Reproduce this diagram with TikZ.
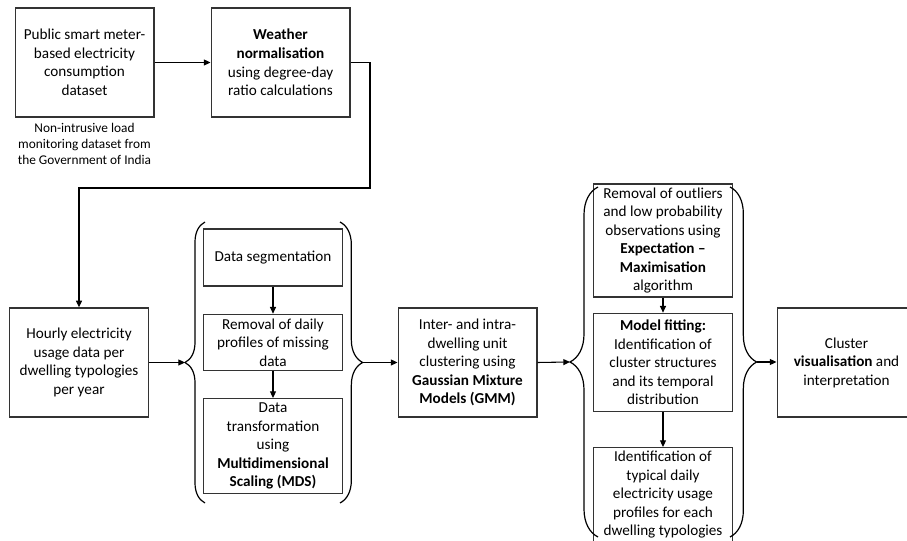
\documentclass[tikz,border=0pt]{standalone}
\usepackage{fontspec}
\setmainfont{Carlito}
\usetikzlibrary{positioning,arrows.meta,decorations.pathreplacing}

\begin{document}
\begin{tikzpicture}[x=0.75pt, y=-0.75pt,
    every node/.style={font=\fontsize{11.4}{13.9}\selectfont, align=center},
    stepbox/.style={draw=black!80, line width=1pt, minimum width=104pt, inner sep=1pt},
    note/.style={font=\fontsize{10}{12}\selectfont, inner sep=0pt},
    arr/.style={-{Triangle[length=5pt,width=4.5pt]}, line width=0.8pt},
    grpbrace/.style={decorate, line width=0.9pt, decoration={brace, amplitude=#1}},
    ]
  \useasboundingbox (0,0) rectangle (907,541);

  % top row
  \node[stepbox, minimum height=81.75pt] (smart) at (84.5,62.5)
      {Public smart meter-\\based electricity\\consumption\\dataset};
  \node[note, below=4pt of smart] (nilm)
      {Non-intrusive load\\monitoring dataset from\\the Government of India};
  \node[stepbox, minimum height=81.75pt] (wnorm) at (280.5,62.5)
      {\textbf{Weather}\\\textbf{normalisation}\\using degree-day\\ratio calculations};

  % main row
  \node[stepbox, minimum height=81.75pt] (hourly) at (79,362.5)
      {Hourly electricity\\usage data per\\dwelling typologies\\per year};

  \node[stepbox, minimum height=42.75pt] (segment) at (273,257.5) {Data segmentation};
  \node[stepbox, minimum height=42pt, below=20.25pt of segment] (missing)
      {Removal of daily\\profiles of missing\\data};
  \node[stepbox, minimum height=71.25pt, below=20.25pt of missing] (mds)
      {Data\\transformation\\using\\\textbf{Multidimensional}\\\textbf{Scaling (MDS)}};

  \node[stepbox, minimum height=81.75pt] (gmm) at (467.5,362.5)
      {Inter- and intra-\\dwelling unit\\clustering using\\\textbf{Gaussian Mixture}\\\textbf{Models (GMM)}};

  \node[stepbox, minimum height=84.75pt] (outliers) at (663,240.5)
      {Removal of outliers\\and low probability\\observations using\\\textbf{Expectation –}\\\textbf{Maximisation}\\algorithm};
  \node[stepbox, minimum height=73.5pt, below=11.25pt of outliers] (fitting)
      {\textbf{Model fitting:}\\Identification of\\cluster structures\\and its temporal\\distribution};
  \node[stepbox, minimum height=70.5pt, below=26.25pt of fitting] (profiles)
      {Identification of\\typical daily\\electricity usage\\profiles for each\\dwelling typologies};

  \node[stepbox, minimum height=81.75pt] (visual) at (846.5,362.5)
      {Cluster\\\textbf{visualisation} and\\interpretation};

  % braces round the groups
  \draw[grpbrace=15pt] (205,503) -- (205,222);
  \draw[grpbrace=17pt] (340,222) -- (340,503);
  \draw[grpbrace=21pt] (598,537) -- (598,187);
  \draw[grpbrace=20pt] (730,187) -- (730,537);
  \coordinate (prepin) at (185,362.5);
  \coordinate (prepout) at (362.7,362.5);
  \coordinate (postin) at (570,362);
  \coordinate (postout) at (756.7,362);
  \coordinate (turn) at (370,188);

  % connectors
  \draw[arr] (smart) -- (wnorm);
  \draw[arr] (wnorm.east) -| (turn) -| (hourly.north);
  \draw[arr] (hourly) -- (prepin);
  \draw[arr] (segment) -- (missing);
  \draw[arr] (missing) -- (mds);
  \draw[arr] (prepout) -- (gmm);
  \draw[arr] (gmm.east) -- (postin);
  \draw[arr] (outliers) -- (fitting);
  \draw[arr] (fitting) -- (profiles);
  \draw[arr] (postout) -- (visual.west |- postout);
\end{tikzpicture}
\end{document}
